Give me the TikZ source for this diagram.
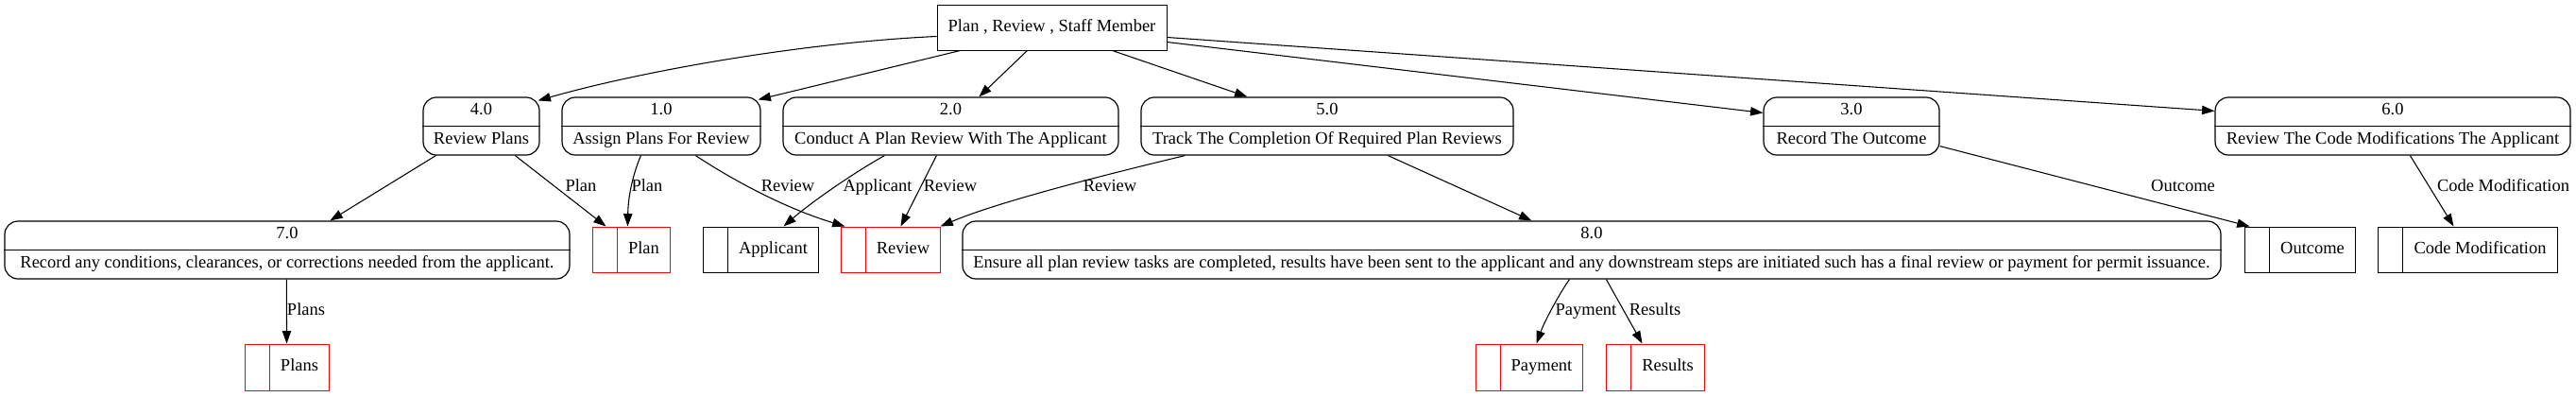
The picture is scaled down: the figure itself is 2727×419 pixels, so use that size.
\documentclass[tikz,border=0pt]{standalone}
\usepackage{fontspec}
\setmainfont{Liberation Serif}
\usetikzlibrary{arrows.meta,calc,fit}
\newcommand{\procnode}[7]{%
  \node[procbox, fit={(#2,#3) (#4,#5)}] (#1) {};
  \draw[divline] (#1.west) -- (#1.east);
  \node[txt] (#1n) at ($(#1.center)+(0,-16)$) {#6};
  \node[txt] (#1l) at ($(#1.center)+(0,14.5)$) {#7};
}
\newcommand{\storenode}[7]{%
  \node[storebox, draw=#6, fit={(#2,#3) (#4,#5)}] (#1) {};
  \draw[#6, line width=0.75pt] ($(#1.north west)+(27,0)$) -- ($(#1.south west)+(27,0)$);
  \node[txt] (#1t) at ($(#1.center)+(13.5,0)$) {#7};
}
\begin{document}
\begin{tikzpicture}[x=0.75pt,y=-0.75pt,
  font=\fontsize{13.85}{16}\selectfont,
  procbox/.style={draw, rounded corners=10.5pt, inner sep=0pt, line width=0.9pt},
  divline/.style={line width=0.9pt},
  storebox/.style={inner sep=0pt, line width=0.75pt},
  txt/.style={inner sep=0pt, text height=0.66em, text depth=0pt},
  lbl/.style={inner sep=0pt, text height=0.66em, text depth=0pt},
  flow/.style={-{Triangle[length=10pt,width=7pt]}, line width=0.8pt}]
\useasboundingbox (0,0) rectangle (2727,419);

% external entity
\node[draw, line width=0.75pt, inner sep=0pt, fit={(992,5) (1235,53)}] (staff) {};
\node[txt] (stafft) at (staff.center) {Plan , Review , Staff Member};

% processes
\procnode{p4}{448}{103}{571}{164}{4.0}{Review Plans}
\procnode{p1}{595}{103}{805}{164}{1.0}{Assign Plans For Review}
\procnode{p2}{829}{103}{1184}{164}{2.0}{Conduct A Plan Review With The Applicant}
\procnode{p5}{1208}{103}{1602}{164}{5.0}{Track The Completion Of Required Plan Reviews}
\procnode{p3}{1867}{103}{2053}{164}{3.0}{Record The Outcome}
\procnode{p6}{2345}{103}{2721}{164}{6.0}{Review The Code Modifications The Applicant}
\procnode{p7}{5}{234}{603}{295}{7.0}{Record any conditions, clearances, or corrections needed from the applicant.}
\procnode{p8}{1019}{234}{2351}{295}{8.0}{Ensure all plan review tasks are completed, results have been sent to the applicant and any downstream steps are initiated such has a final review or payment for permit issuance.}

% data stores
\storenode{plan}{627}{240}{709}{288}{red}{Plan}
\storenode{appl}{744}{240}{866}{288}{black}{Applicant}
\storenode{rev}{890}{240}{995}{288}{red}{Review}
\storenode{outc}{2376}{240}{2493}{288}{black}{Outcome}
\storenode{code}{2517}{240}{2707}{288}{black}{Code Modification}
\storenode{plans}{259}{364}{348}{413}{red}{Plans}
\storenode{pay}{1562}{364}{1675}{413}{red}{Payment}
\storenode{res}{1700}{364}{1804}{413}{red}{Results}

% flows from the staff member
\draw[flow] ($(staff.north west)+(0,34)$) .. controls (850,45) and (680,75) .. ($(p4.north east)+(-2,4)$);
\draw[flow] ($(staff.south west)+(25,0)$) -- ($(p1.north east)+(-3,3)$);
\draw[flow] ($(staff.south west)+(96,0)$) -- ($(p2.north west)+(208,0)$);
\draw[flow] ($(staff.south west)+(186,0)$) -- ($(p5.north west)+(113,0)$);
\draw[flow] ($(staff.north east)+(0,40)$) -- ($(p3.north west)+(0,17)$);
\draw[flow] ($(staff.north east)+(0,35)$) -- ($(p6.north west)+(0,15)$);

% other flows
\draw[flow] ($(p4.south west)+(14,0)$) -- ($(p7.north west)+(345,0)$);
\draw[flow] ($(p4.south west)+(98,0)$) -- ($(plan.north west)+(15,0)$);
\draw[flow] ($(p1.south west)+(84,0)$) .. controls (671,182) and (665,205) .. ($(plan.north west)+(38,0)$);
\draw[flow] ($(p1.south west)+(142,0)$) .. controls (775,190) and (830,220) .. ($(rev.north west)+(5,0)$);
\draw[flow] ($(p2.south west)+(108,0)$) .. controls (905,182) and (860,213) .. ($(appl.north west)+(86,0)$);
\draw[flow] ($(p2.south west)+(163,0)$) -- ($(rev.north west)+(64,0)$);
\draw[flow] ($(p5.south west)+(47,0)$) .. controls (1190,180) and (1060,212) .. ($(rev.north east)+(0,0)$);
\draw[flow] ($(p5.south west)+(262,0)$) -- ($(p8.north west)+(603,0)$);
\draw[flow] ($(p3.south east)+(0,-10)$) -- ($(outc.north west)+(6,0)$);
\draw[flow] ($(p6.south west)+(207,0)$) -- ($(code.north west)+(81,0)$);
\draw[flow] ($(p7.south west)+(299,0)$) -- ($(plans.north west)+(45,0)$);
\draw[flow] ($(p8.south west)+(643,0)$) .. controls (1650,312) and (1635,340) .. ($(pay.north west)+(65,0)$);
\draw[flow] ($(p8.south west)+(682,0)$) -- ($(res.north west)+(39,0)$);

% flow labels
\node[lbl] (l1) at (615,198) {Plan};
\node[lbl] (l2) at (685,198) {Plan};
\node[lbl] (l3) at (834,198) {Review};
\node[lbl] (l4) at (929,198) {Applicant};
\node[lbl] (l5) at (1006,198) {Review};
\node[lbl] (l6) at (1175,198) {Review};
\node[lbl] (l7) at (2311,198) {Outcome};
\node[lbl] (l8) at (2650,198) {Code Modification};
\node[lbl] (l9) at (324,329) {Plans};
\node[lbl] (l10) at (1679,329) {Payment};
\node[lbl] (l11) at (1752,329) {Results};
\end{tikzpicture}
\end{document}
